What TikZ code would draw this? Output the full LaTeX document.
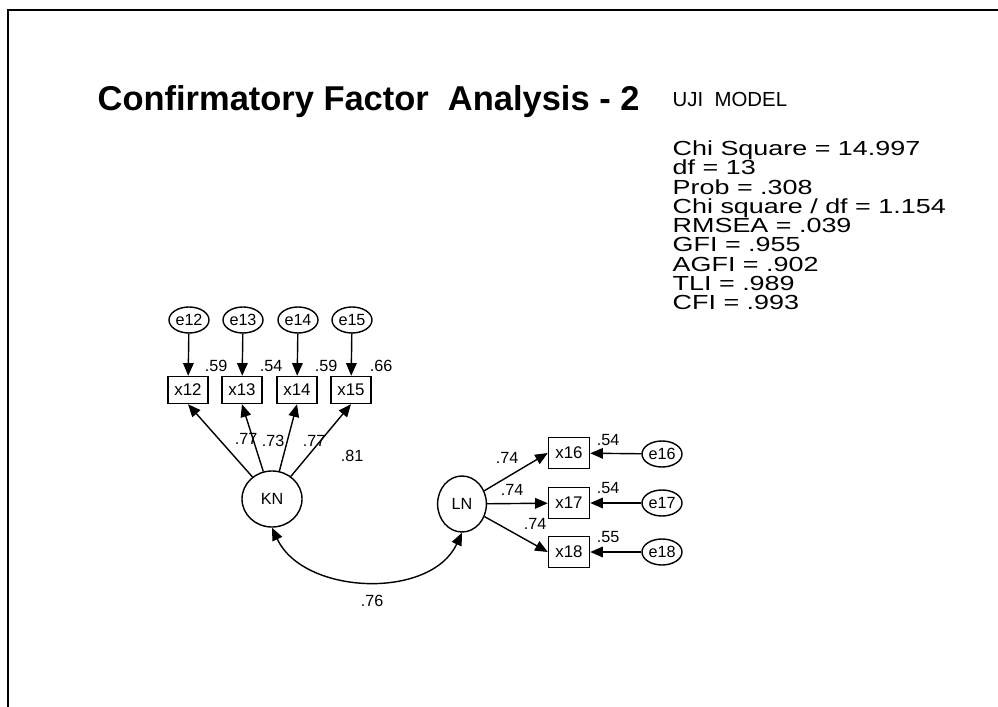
\documentclass[tikz,border=0pt]{standalone}
\usepackage{fontspec}
\setmainfont{Liberation Sans}
\newfontfamily\widesans[FakeStretch=1.32]{Liberation Sans}
\usepackage{tikz}
\usetikzlibrary{arrows.meta, positioning, shapes.geometric}

\begin{document}
\begin{tikzpicture}[x=0.025cm, y=-0.025cm, line width=1pt,
    >={Triangle[length=9pt, width=7.5pt]},
    err/.style={draw, ellipse, inner sep=0pt, minimum width=1cm, minimum height=0.65cm, font=\fontsize{11.5}{12}\selectfont},
    obs/.style={draw, rectangle, inner sep=0pt, minimum width=1cm, minimum height=0.675cm, font=\fontsize{12}{13}\selectfont},
    obsr/.style={obs, minimum width=1.025cm, minimum height=0.775cm},
    lat/.style={draw, ellipse, inner sep=0pt, font=\fontsize{11.5}{12}\selectfont},
    lbl/.style={inner sep=0pt, font=\fontsize{11.5}{12}\selectfont}]
    \useasboundingbox (0,0) rectangle (998,707);
    \draw[line width=2pt] (8,707) -- (8,10) -- (998,10);

    % title and fit
    \node[anchor=west, inner sep=0pt, font=\bfseries\fontsize{24.5}{28}\selectfont] (title) at (97,102) {Confirmatory Factor~~Analysis - 2};
    \node[anchor=north west, inner sep=0pt, font=\fontsize{14.5}{14}\selectfont] (uji) at (672,92) {UJI~~MODEL};
    \node[anchor=north west, inner sep=0pt, align=left, font=\widesans\fontsize{14.5}{13.7}\selectfont] (fit) at (672,140)
        {Chi Square = 14.997\\df = 13\\Prob = .308\\Chi square / df = 1.154\\RMSEA = .039\\GFI = .955\\AGFI = .902\\TLI = .989\\CFI = .993};

    % KN
    \node[err] (e12) at (189,320) {e12};
    \node[err] (e13) at (243,320) {e13};
    \node[err] (e14) at (298,320) {e14};
    \node[err] (e15) at (352,320) {e15};
    \node[obs] (x12) at (188,390) {x12};
    \node[obs] (x13) at (242,390) {x13};
    \node[obs] (x14) at (297,390) {x14};
    \node[obs] (x15) at (351,390) {x15};
    \node[lat, minimum width=1.5cm, minimum height=1.4cm] (KN) at (272,499) {KN};
    \foreach \i in {12,13,14,15} {
        \draw[->] (e\i) -- (x\i);
        \draw[->] (KN) -- (x\i.south);
    }
    \node[lbl] (r12) at (216,366) {.59};
    \node[lbl] (r13) at (271,366) {.54};
    \node[lbl] (r14) at (326,366) {.59};
    \node[lbl] (r15) at (381,366) {.66};
    \node[lbl] (w12) at (246,439) {.77};
    \node[lbl] (w13) at (273,441) {.73};
    \node[lbl] (w14) at (314,441) {.77};
    \node[lbl] (w15) at (352,456) {.81};

    % LN
    \node[lat, minimum width=1.22cm, minimum height=1.4cm] (LN) at (462,504) {LN};
    \node[obsr] (x16) at (569,453) {x16};
    \node[obsr] (x17) at (569,503) {x17};
    \node[obsr] (x18) at (569,552) {x18};
    \node[err] (e16) at (662,454) {e16};
    \node[err] (e17) at (662,503) {e17};
    \node[err] (e18) at (662,552) {e18};
    \draw[->] (LN) -- (x16.west);
    \draw[->] (LN) -- (x17);
    \draw[->] (LN) -- (x18.west);
    \foreach \i in {16,17,18}
        \draw[->] (e\i) -- (x\i);
    \node[lbl] (w16) at (507,458) {.74};
    \node[lbl] (w17) at (512,490) {.74};
    \node[lbl] (w18) at (535,524) {.74};
    \node[lbl] (r16) at (608,440) {.54};
    \node[lbl] (r17) at (608,488) {.54};
    \node[lbl] (r18) at (608,537) {.55};

    % correlation
    \draw[<->] (KN.south) to[out=-65, in=-115] (LN.south);
    \node[lbl] (cor) at (372,601) {.76};
\end{tikzpicture}
\end{document}
